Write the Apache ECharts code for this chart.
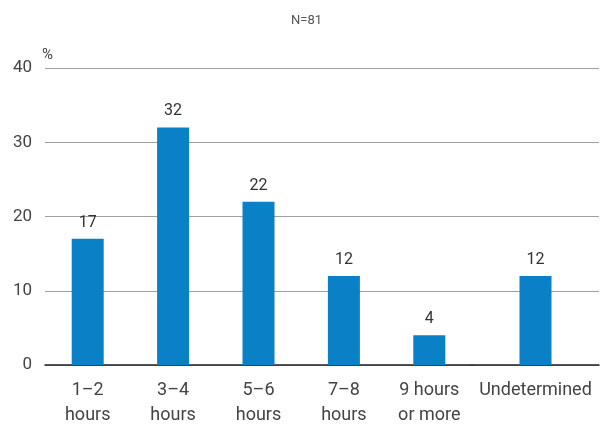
<!DOCTYPE html>
<html>
<head>
<meta charset="utf-8">
<script src="https://cdn.jsdelivr.net/npm/echarts@6/dist/echarts.min.js"></script>
<style>
  html, body { margin: 0; padding: 0; background: #fff; }
  #chart { width: 613px; height: 424px; }
</style>
</head>
<body>
<div id="chart"></div>
<script>
// Sleep duration groups (share of respondents, %)
const hourCategories = ['1\u20132\nhours', '3\u20134\nhours', '5\u20136\nhours', '7\u20138\nhours', '9 hours\nor more'];
const hourValues = [17, 32, 22, 12, 4];
// Respondents without a fixed answer, shown in a wider section of its own
const otherCategories = ['Undetermined'];
const otherValues = [12];
const yTicks = [0, 10, 20, 30, 40];

const FONT = 'Roboto, "Noto Sans", sans-serif';
const BAR = '#0a80c6';
const TEXT = '#444';

function valueAxis(gridIndex, showLabels) {
  return {
    type: 'value',
    gridIndex: gridIndex,
    min: yTicks[0],
    max: yTicks[yTicks.length - 1],
    interval: yTicks[1] - yTicks[0],
    name: showLabels ? '%' : '',
    nameLocation: 'end',
    nameGap: 5,
    nameTextStyle: { color: TEXT, fontSize: 15, fontFamily: FONT, align: 'left', padding: [0, 0, 0, -3] },
    axisLine: { show: false },
    axisTick: { show: false },
    axisLabel: { show: showLabels, color: TEXT, fontSize: 17, fontFamily: FONT, margin: 13 },
    splitLine: { lineStyle: { color: '#a0a0a0', width: 1 } }
  };
}

function categoryAxis(gridIndex, data) {
  return {
    type: 'category',
    gridIndex: gridIndex,
    data: data,
    axisLine: { lineStyle: { color: '#222', width: 1.5 } },
    axisTick: { show: false },
    axisLabel: { color: TEXT, fontSize: 18, fontFamily: FONT, lineHeight: 25, margin: 13, interval: 0 }
  };
}

function barSeries(index, values) {
  return {
    type: 'bar',
    xAxisIndex: index,
    yAxisIndex: index,
    data: values,
    barWidth: 32,
    itemStyle: { color: BAR },
    label: { show: true, position: 'top', distance: 8, color: '#333', fontSize: 16, fontFamily: FONT }
  };
}

const chart = echarts.init(document.getElementById('chart'), null, { renderer: 'canvas' });
chart.setOption({
  animation: false,
  title: {
    text: 'N=81',
    left: 'center',
    top: 9,
    textStyle: { color: '#555', fontSize: 13, fontWeight: 'normal', fontFamily: FONT }
  },
  grid: [
    { left: 45, width: 427, top: 68, bottom: 59, containLabel: false, outerBoundsMode: 'none' },
    { left: 472, right: 14, top: 68, bottom: 59, containLabel: false, outerBoundsMode: 'none' }
  ],
  xAxis: [categoryAxis(0, hourCategories), categoryAxis(1, otherCategories)],
  yAxis: [valueAxis(0, true), valueAxis(1, false)],
  series: [barSeries(0, hourValues), barSeries(1, otherValues)]
});
</script>
</body>
</html>
